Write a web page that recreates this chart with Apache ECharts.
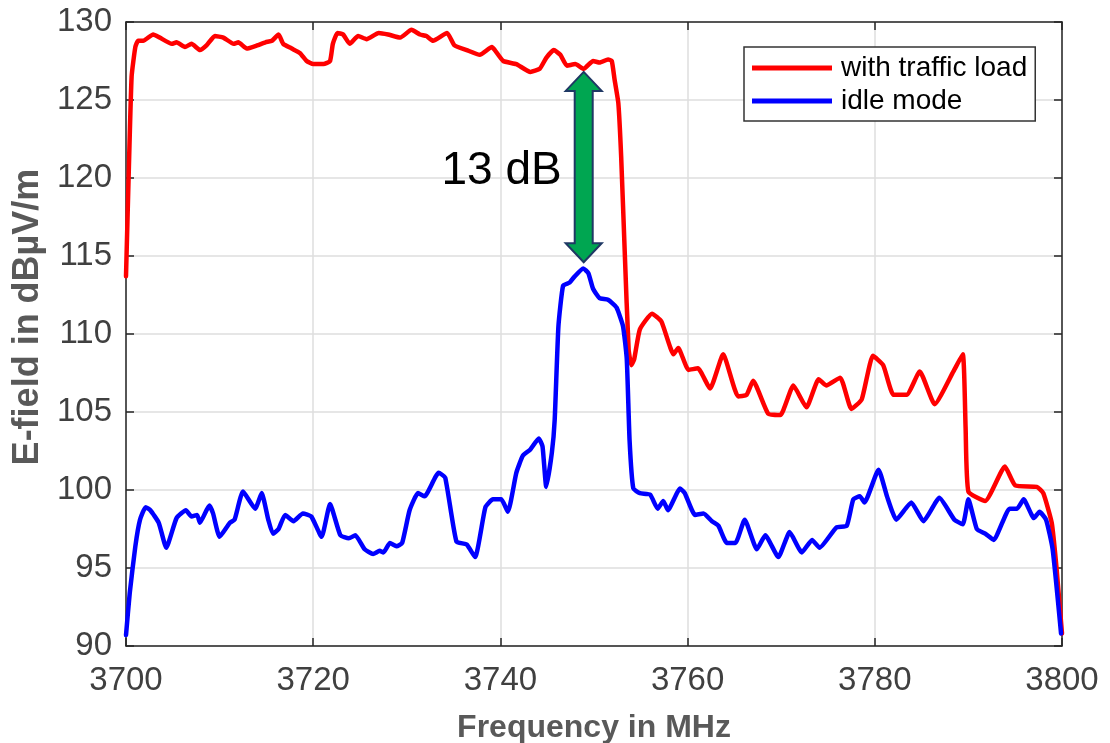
<!DOCTYPE html>
<html>
<head>
<meta charset="utf-8">
<script src="https://cdn.jsdelivr.net/npm/echarts@6/dist/echarts.min.js"></script>
<style>
  html, body { margin: 0; padding: 0; background: #ffffff; }
  #chart { width: 1110px; height: 743px; }
</style>
</head>
<body>
<div id="chart"></div>
<script>
// ---- data ----
const seriesNames = ['with traffic load', 'idle mode'];
const xTicks = [3700, 3720, 3740, 3760, 3780, 3800];
const yTicks = [90, 95, 100, 105, 110, 115, 120, 125, 130];

const trafficFreq = [3700.0,3700.3,3700.6,3701.0,3701.3,3701.85,3702.9,3703.6,3704.9,3705.4,3706.3,3707.0,3707.9,3708.6,3709.5,3710.4,3711.5,3712.0,3712.9,3714.0,3714.9,3715.6,3716.3,3716.8,3717.7,3718.6,3719.3,3720.0,3721.1,3721.8,3722.1,3722.6,3723.2,3723.9,3724.8,3725.7,3727.0,3728.0,3729.3,3730.5,3731.4,3732.1,3732.8,3734.3,3735.1,3736.4,3737.8,3739.1,3739.4,3740.3,3741.7,3743.2,3744.2,3744.9,3745.7,3746.4,3747.1,3748.0,3748.9,3749.9,3750.6,3751.5,3751.9,3752.2,3752.6,3752.9,3753.3,3753.7,3754.0,3754.3,3754.9,3756.2,3757.2,3758.5,3759.0,3760.1,3761.1,3762.4,3763.8,3765.4,3766.3,3767.0,3768.6,3769.9,3771.3,3772.7,3774.0,3774.8,3776.3,3777.5,3778.6,3779.8,3780.9,3782.0,3783.4,3784.8,3786.4,3788.4,3789.4,3789.7,3790.0,3791.8,3793.9,3795.0,3797.3,3798.0,3798.9,3799.4,3800.0];
const trafficVal = [113.7,120.5,126.5,128.4,128.8,128.8,129.2,129.0,128.6,128.7,128.4,128.6,128.2,128.5,129.1,129.0,128.6,128.7,128.3,128.5,128.7,128.8,129.2,128.6,128.3,128.0,127.5,127.3,127.3,127.5,128.6,129.3,129.2,128.6,129.1,128.9,129.3,129.2,129.0,129.5,129.2,129.1,128.8,129.3,128.5,128.2,127.9,128.4,128.2,127.5,127.3,126.8,127.0,127.7,128.2,127.9,127.2,127.3,127.0,127.5,127.4,127.6,127.5,126.3,124.8,121.4,115.0,109.0,108.0,108.4,110.3,111.3,110.8,108.7,109.1,107.7,107.8,106.5,108.7,106.0,106.1,107.0,104.9,104.8,106.7,105.3,107.1,106.7,107.2,105.2,105.8,108.6,108.0,106.1,106.1,107.6,105.5,107.6,108.7,104.0,99.9,99.3,101.5,100.3,100.2,99.8,97.9,95.1,90.8];

const idleFreq = [3700.0,3700.4,3701.0,3701.5,3702.1,3702.6,3703.5,3704.3,3705.4,3706.4,3707.0,3707.6,3707.9,3708.9,3709.3,3710.0,3711.1,3711.6,3712.5,3713.8,3714.5,3715.2,3715.7,3716.3,3717.0,3717.9,3718.9,3719.8,3720.9,3721.8,3722.9,3723.8,3724.5,3725.5,3726.4,3727.1,3727.5,3728.2,3728.9,3729.5,3730.3,3731.2,3731.9,3733.4,3734.1,3735.3,3736.4,3737.3,3738.4,3739.2,3740.1,3740.8,3741.7,3742.4,3743.2,3744.1,3744.5,3744.9,3745.5,3745.8,3746.2,3746.7,3747.4,3747.8,3748.85,3749.4,3749.9,3750.6,3751.5,3752.4,3753.1,3753.5,3753.8,3754.2,3754.9,3756.0,3756.8,3757.4,3757.9,3759.2,3759.7,3760.8,3761.7,3762.6,3763.3,3764.2,3765.1,3766.1,3767.4,3768.3,3769.7,3770.9,3772.2,3773.3,3774.1,3775.9,3777.0,3777.7,3778.4,3778.9,3780.4,3781.3,3782.3,3783.9,3785.2,3786.9,3788.5,3789.4,3790.0,3790.9,3791.8,3792.7,3794.4,3795.2,3795.9,3797.0,3797.6,3798.3,3799.0,3799.9];
const idleVal = [90.7,93.4,96.4,98.1,98.9,98.7,97.9,96.3,98.2,98.7,98.3,98.4,97.9,99.0,98.5,97.0,97.9,98.1,99.9,98.8,99.8,98.1,97.2,97.5,98.4,98.0,98.5,98.3,97.0,99.1,97.1,96.9,97.1,96.2,95.9,96.1,96.0,96.6,96.4,96.6,98.7,99.8,99.6,101.1,100.8,96.7,96.5,95.7,98.9,99.4,99.4,98.6,101.1,102.2,102.6,103.3,102.8,100.2,102.4,104.5,110.5,113.1,113.3,113.6,114.2,113.9,112.9,112.3,112.2,111.7,110.5,108.4,103.2,100.1,99.8,99.7,98.8,99.3,98.7,100.1,99.8,98.4,98.5,98.0,97.7,96.6,96.6,98.1,96.2,97.1,95.7,97.3,96.0,96.8,96.3,97.6,97.7,99.4,99.6,99.2,101.3,99.6,98.1,99.2,98.0,99.5,98.1,97.8,99.4,97.5,97.2,96.8,98.8,98.8,99.4,98.2,98.6,98.1,96.2,90.8];

// annotation: double arrow between the two curves, and its label
const arrowFreq = [3748.9];
const arrowTop = [126.8];
const arrowBottom = [114.6];
const arrowLabel = ['13 dB'];

// ---- chart ----
const chart = echarts.init(document.getElementById('chart'), null, { renderer: 'canvas' });

const pairs = (xs, ys) => xs.map((x, i) => [x, ys[i]]);
const arrowData = arrowFreq.map((f, i) => [f, arrowTop[i], arrowBottom[i], arrowLabel[i]]);

const AXIS_COLOR = '#262626';
const TICK_TEXT = '#404040';
const NAME_TEXT = '#595959';
const FONT = 'Liberation Sans, Arial, sans-serif';

const baseX = { type: 'value', min: xTicks[0], max: xTicks[xTicks.length - 1], interval: xTicks[1] - xTicks[0] };
const baseY = { type: 'value', min: yTicks[0], max: yTicks[yTicks.length - 1], interval: yTicks[1] - yTicks[0] };

const option = {
  backgroundColor: '#ffffff',
  animation: false,
  grid: { left: 126, top: 22, width: 936, height: 624, containLabel: false, outerBoundsMode: 'none' },
  legend: {
    data: seriesNames,
    orient: 'vertical',
    left: 744, top: 47,
    padding: [7, 8, 6, 8],
    itemGap: 5,
    itemWidth: 80, itemHeight: 5,
    icon: 'rect',
    borderColor: '#333333', borderWidth: 1.5,
    backgroundColor: '#ffffff',
    textStyle: { fontFamily: FONT, fontSize: 28, color: '#000000', lineHeight: 28, padding: [0, 0, 0, 4] }
  },
  xAxis: [
    Object.assign({}, baseX, {
      position: 'bottom',
      name: 'Frequency in MHz', nameLocation: 'middle', nameGap: 66,
      nameTextStyle: { fontFamily: FONT, fontSize: 32, fontWeight: 'bold', color: NAME_TEXT },
      axisLine: { show: true, lineStyle: { color: AXIS_COLOR, width: 1.5 } },
      axisTick: { show: true, inside: true, length: 8, lineStyle: { color: AXIS_COLOR, width: 1.5 } },
      axisLabel: { fontFamily: FONT, fontSize: 33, color: TICK_TEXT, margin: 18, formatter: v => String(v) },
      splitLine: { show: true, lineStyle: { color: '#dedede', width: 1.5 } }
    }),
    Object.assign({}, baseX, {
      position: 'top',
      axisLine: { show: true, lineStyle: { color: AXIS_COLOR, width: 1.5 } },
      axisTick: { show: true, inside: true, length: 8, lineStyle: { color: AXIS_COLOR, width: 1.5 } },
      axisLabel: { show: false },
      splitLine: { show: false }
    })
  ],
  yAxis: [
    Object.assign({}, baseY, {
      position: 'left',
      name: 'E-field in dBµV/m', nameLocation: 'middle', nameGap: 77, nameRotate: 90,
      nameTextStyle: { fontFamily: FONT, fontSize: 36, fontWeight: 'bold', color: NAME_TEXT, padding: [0, 0, 0, 34] },
      axisLine: { show: true, lineStyle: { color: AXIS_COLOR, width: 1.5 } },
      axisTick: { show: true, inside: true, length: 8, lineStyle: { color: AXIS_COLOR, width: 1.5 } },
      axisLabel: { fontFamily: FONT, fontSize: 33, color: TICK_TEXT, margin: 14, formatter: v => String(v) },
      splitLine: { show: true, lineStyle: { color: '#dedede', width: 1.5 } }
    }),
    Object.assign({}, baseY, {
      position: 'right',
      axisLine: { show: true, lineStyle: { color: AXIS_COLOR, width: 1.5 } },
      axisTick: { show: true, inside: true, length: 8, lineStyle: { color: AXIS_COLOR, width: 1.5 } },
      axisLabel: { show: false },
      splitLine: { show: false }
    })
  ],
  series: [
    {
      name: seriesNames[0], type: 'line', xAxisIndex: 0, yAxisIndex: 0,
      data: pairs(trafficFreq, trafficVal),
      showSymbol: false, smooth: 0.15, z: 3,
      itemStyle: { color: '#ff0000' },
      lineStyle: { color: '#ff0000', width: 4.5, join: 'round', cap: 'round' }
    },
    {
      name: seriesNames[1], type: 'line', xAxisIndex: 0, yAxisIndex: 0,
      data: pairs(idleFreq, idleVal),
      showSymbol: false, smooth: 0.15, z: 4,
      itemStyle: { color: '#0000ff' },
      lineStyle: { color: '#0000ff', width: 4.5, join: 'round', cap: 'round' }
    },
    {
      name: 'arrow', type: 'custom', xAxisIndex: 0, yAxisIndex: 0, z: 10,
      data: arrowData,
      encode: { x: 0, y: [1, 2] },
      renderItem: function (params, api) {
        const top = api.coord([api.value(0), api.value(1)]);
        const bot = api.coord([api.value(0), api.value(2)]);
        const cx = top[0];
        const headH = 19, headW = 18, shaftW = 9;
        const pts = [
          [cx, top[1]],
          [cx + headW, top[1] + headH],
          [cx + shaftW, top[1] + headH],
          [cx + shaftW, bot[1] - headH],
          [cx + headW, bot[1] - headH],
          [cx, bot[1]],
          [cx - headW, bot[1] - headH],
          [cx - shaftW, bot[1] - headH],
          [cx - shaftW, top[1] + headH],
          [cx - headW, top[1] + headH]
        ];
        return {
          type: 'group',
          children: [
            {
              type: 'polygon',
              shape: { points: pts },
              style: { fill: '#00a651', stroke: '#1f3864', lineWidth: 2 }
            },
            {
              type: 'text',
              x: cx - 22, y: (top[1] + bot[1]) / 2 + 4,
              style: {
                text: arrowLabel[params.dataIndex],
                fontFamily: FONT, fontSize: 46, fill: '#000000',
                align: 'right', verticalAlign: 'middle'
              }
            }
          ]
        };
      }
    }
  ]
};

chart.setOption(option);
</script>
</body>
</html>
